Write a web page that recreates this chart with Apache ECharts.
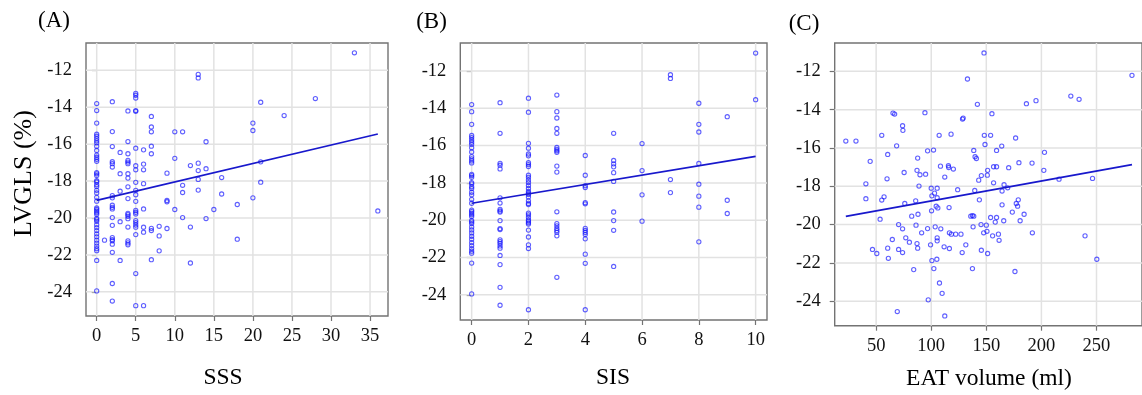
<!DOCTYPE html>
<html><head><meta charset="utf-8">
<script src="https://cdn.jsdelivr.net/npm/echarts@6/dist/echarts.min.js"></script>
<style>html,body{margin:0;padding:0;background:#fff}#c{width:1142px;height:395px}</style>
</head><body><div id="c"></div>
<script>
// ---- tick labels ----
const sssTicks = [0, 5, 10, 15, 20, 25, 30, 35];
const sisTicks = [0, 2, 4, 6, 8, 10];
const eatTicks = [50, 100, 150, 200, 250];
const lvglsTicks = [-24, -22, -20, -18, -16, -14, -12];

// ---- titles ----
const panelLabels = ['(A)', '(B)', '(C)'];
const xTitles = ['SSS', 'SIS', 'EAT volume (ml)'];
const yTitle = 'LVGLS (%)';

// ---- Panel A: LVGLS by SSS (x value, y values) ----
const sssValues = [0, 1, 2, 3, 4, 5, 6, 7, 8, 9, 10, 11, 12, 13, 14, 15, 16, 18, 20, 21, 24, 28, 33, 36];
const lvglsBySss = [
  [-13.8,-14.18,-14.86,-15.46,-15.57,-15.7,-15.82,-15.93,-16.11,-16.34,-16.59,-16.71,-16.82,-16.93,-17.54,-17.61,-17.7,-17.98,-18.05,-18.2,-18.3,-18.5,-18.64,-18.88,-19.09,-19.46,-19.54,-19.63,-19.71,-19.8,-20.02,-20.09,-20.18,-20.36,-20.52,-20.68,-20.86,-21.02,-21.2,-21.36,-21.52,-21.66,-21.77,-22.3,-23.95],
  [-21.2],
  [-13.7,-15.32,-16.13,-16.95,-17.06,-17.24,-18.79,-18.91,-19.31,-19.42,-19.51,-19.98,-20.4,-21.06,-21.17,-21.24,-21.42,-21.86,-23.55,-24.5],
  [-16.45,-17.6,-18.55,-20.2,-22.3],
  [-14.2,-15.86,-16.52,-16.88,-16.97,-17.06,-17.6,-17.84,-18.31,-18.95,-19.75,-19.82,-19.91,-20.04,-20.49,-21.24,-21.35,-21.45],
  [-13.25,-13.35,-13.5,-14.18,-14.22,-16.22,-17.17,-17.39,-18.07,-18.5,-18.74,-19.1,-19.59,-19.69,-19.78,-20.14,-20.25,-20.38,-20.5,-20.9,-23.01,-24.75],
  [-16.31,-17.08,-17.39,-18.14,-19.51,-20.5,-20.77,-24.75],
  [-14.5,-15.07,-15.33,-16.11,-16.52,-20.56,-20.68,-22.26],
  [-20.45,-20.97,-21.78],
  [-17.57,-19.05,-19.12,-20.57],
  [-15.33,-16.77,-19.54],
  [-15.33,-18.23,-18.62,-19.98],
  [-17.16,-20.49,-22.44],
  [-12.22,-12.41,-17.03,-17.43,-17.91,-18.49],
  [-15.87,-17.33,-20.03],
  [-19.54],
  [-17.81,-18.7],
  [-19.27,-21.15],
  [-14.86,-15.26,-18.91],
  [-13.73,-16.96,-18.06],
  [-14.45],
  [-13.53],
  [-11.05],
  [-19.62]
];
const fitA = [[0, -19.05], [36, -15.45]];

// ---- Panel B: LVGLS by SIS ----
const sisValues = [0, 1, 2, 3, 4, 5, 6, 7, 8, 9, 10];
const lvglsBySis = [
  [-13.8,-14.18,-14.86,-15.46,-15.57,-15.7,-15.82,-15.93,-16.11,-16.34,-16.59,-16.71,-16.82,-16.93,-17.54,-17.61,-17.7,-17.98,-18.05,-18.2,-18.3,-18.5,-18.64,-18.88,-19.09,-19.46,-19.54,-19.63,-19.71,-19.8,-20.02,-20.09,-20.18,-20.36,-20.52,-20.68,-20.86,-21.02,-21.2,-21.36,-21.52,-21.66,-21.77,-22.3,-23.95],
  [-13.7,-15.34,-16.95,-17.05,-17.25,-18.8,-19.08,-19.42,-19.5,-19.56,-20.02,-20.45,-20.5,-21.05,-21.15,-21.25,-21.38,-21.5,-21.89,-22.38,-23.6,-24.56],
  [-13.46,-14.21,-15.88,-16.14,-16.45,-16.55,-16.92,-17.02,-17.12,-17.59,-17.7,-17.85,-17.98,-18.14,-18.3,-18.46,-18.55,-18.62,-18.75,-18.96,-19.1,-19.16,-19.62,-19.71,-19.84,-19.98,-20.05,-20.14,-20.21,-20.53,-20.9,-21.32,-21.52,-24.8],
  [-13.29,-14.18,-14.52,-15.08,-15.34,-16.1,-16.2,-16.28,-16.36,-17.1,-17.42,-19.55,-20.18,-20.3,-20.44,-20.55,-20.65,-20.84,-23.06],
  [-16.53,-17.59,-18.15,-18.25,-19.06,-19.12,-20.44,-20.55,-20.66,-20.77,-21.0,-21.82,-22.31,-24.8],
  [-15.34,-16.8,-16.98,-17.14,-17.45,-17.92,-19.56,-20.02,-20.54,-22.48],
  [-15.89,-17.34,-18.64,-20.05],
  [-12.2,-12.4,-17.82,-18.52],
  [-13.73,-14.86,-15.27,-16.96,-18.07,-18.71,-19.3,-21.16],
  [-14.45,-18.93,-19.64],
  [-11.04,-13.54]
];
const fitB = [[0, -19.09], [10, -16.58]];

// ---- Panel C: LVGLS vs EAT volume ----
const eatVolume = [22.5,31.7,40.7,40.7,44.6,46.7,50.6,53.6,55.1,55.1,57.2,59.9,60.5,60.5,61.1,64.7,65.3,66.8,68.6,69.2,70.4,70.4,74.0,74.3,74.0,74.0,75.4,76.0,76.9,80.2,82.3,84.1,85.9,86.2,87.1,87.7,88.0,87.1,87.7,88.9,89.8,91.3,94.3,94.9,96.7,96.7,97.3,99.4,100.0,100.6,100.3,100.6,102.1,102.4,103.0,103.6,104.5,105.1,105.4,105.4,105.4,105.4,106.0,107.2,107.5,108.4,108.7,109.9,111.7,112.3,112.3,115.6,115.9,116.2,116.5,116.5,118.0,118.3,120.1,122.2,124.0,127.0,128.4,129.0,128.1,131.4,132.9,137.4,135.9,137.4,138.6,138.0,138.6,139.8,141.0,141.9,139.5,143.1,143.7,145.2,145.5,145.5,
  147.9,155.1,148.2,153.9,176.6,148.8,164.0,159.3,186.4,195.1,226.7,234.2,282.2,202.8,156.6,159.3,170.3,179.6,191.5,202.2,216.0,246.4,151.2,150.9,156.6,166.1,169.4,164.3,179.0,177.2,178.4,164.3,173.6,184.3,153.9,159.3,158.1,165.8,180.7,150.0,191.8,147.6,150.6,155.7,161.0,161.6,239.6,151.2,250.3,176.0];
const lvglsByEat = [-15.64,-15.64,-17.87,-18.65,-16.7,-21.3,-21.51,-19.72,-15.34,-18.72,-18.55,-17.61,-16.34,-21.23,-21.76,-20.78,-14.18,-14.23,-15.89,-24.54,-20.0,-21.3,-14.84,-15.08,-20.22,-21.46,-17.28,-18.9,-20.69,-20.92,-19.56,-22.35,-18.76,-20.03,-17.17,-16.53,-19.46,-20.99,-21.23,-17.99,-17.4,-20.43,-14.16,-17.37,-16.15,-20.21,-23.93,-21.06,-18.1,-21.88,-19.28,-18.5,-16.11,-22.3,-18.36,-20.12,-19.04,-21.81,-18.1,-18.6,-20.85,-20.69,-19.13,-15.34,-23.05,-16.95,-20.22,-23.59,-21.16,-17.52,-24.77,-16.93,-17.02,-19.11,-20.43,-21.25,-15.28,-20.5,-17.1,-20.5,-18.18,-20.5,-14.49,-14.44,-21.46,-21.06,-12.4,-22.3,-19.56,-19.53,-19.56,-20.12,-16.13,-16.46,-16.55,-13.72,-18.22,-17.68,-18.71,-20.0,-21.34,-17.44,
  -11.04,-14.21,-15.34,-15.34,-15.48,-15.82,-15.9,-16.13,-13.69,-13.53,-13.29,-13.46,-12.21,-16.23,-16.98,-16.98,-17.03,-16.77,-16.79,-17.17,-17.63,-17.59,-17.17,-17.42,-17.82,-17.92,-18.08,-18.25,-18.71,-18.9,-19.04,-18.97,-19.35,-19.46,-19.63,-19.63,-19.87,-19.8,-19.8,-20.03,-20.43,-20.43,-20.35,-20.59,-20.5,-20.82,-20.59,-21.51,-21.81,-22.45];
const fitC = [[22.5, -19.57], [282.2, -16.87]];

// ---- build point tables ----
function fromGroups(xs, groups) {
  const out = [];
  xs.forEach((x, i) => groups[i].forEach(y => out.push([x, y])));
  return out;
}
const ptsA = fromGroups(sssValues, lvglsBySss);
const ptsB = fromGroups(sisValues, lvglsBySis);
const ptsC = eatVolume.map((x, i) => [x, lvglsByEat[i]]);

const FONT = '"Liberation Serif", "Times New Roman", serif';
const GRID_LINE = '#e2e2e2';
const FRAME = '#737373';
const PT = 'rgba(20,20,255,0.85)';
const LINE = '#1818cc';

const ranges = [
  { x: [-1.37, 37.3], y: [-25.31, -10.52] },
  { x: [-0.4, 10.4], y: [-25.35, -10.5] },
  { x: [12.4, 291.3], y: [-25.28, -10.52] }
];

const grids = [
  { left: 86, top: 43, width: 302, height: 273 },
  { left: 460.3, top: 43, width: 306.7, height: 277 },
  { left: 834.7, top: 43, width: 311.3, height: 282.7 }
].map(g => Object.assign(g, { show: true, borderColor: FRAME, borderWidth: 1.4, backgroundColor: 'transparent', containLabel: false }));

function xAx(i, ticks) {
  return {
    type: 'value', gridIndex: i, min: ranges[i].x[0], max: ranges[i].x[1],
    axisLine: { show: false },
    axisTick: { show: true, customValues: ticks, length: 5, lineStyle: { color: FRAME, width: 1.2 } },
    axisLabel: { customValues: ticks, fontSize: 18.5, fontFamily: FONT, color: '#111', margin: 11 },
    splitLine: { show: false }
  };
}
function yAx(i) {
  return {
    type: 'value', gridIndex: i, min: ranges[i].y[0], max: ranges[i].y[1],
    axisLine: { show: false },
    axisTick: { show: true, customValues: lvglsTicks, length: 5, lineStyle: { color: FRAME, width: 1.2 } },
    axisLabel: { customValues: lvglsTicks, fontSize: 18.5, fontFamily: FONT, color: '#111', margin: 14 },
    splitLine: { show: false }
  };
}

// background grid lines at the tick values, drawn through the axes' own scales
function gridLines(i, xticks) {
  const r = ranges[i];
  const d = [];
  xticks.forEach(v => { d.push([v, r.y[0]], [v, r.y[1]], ['-', '-']); });
  lvglsTicks.forEach(v => { d.push([r.x[0], v], [r.x[1], v], ['-', '-']); });
  return {
    type: 'line', xAxisIndex: i, yAxisIndex: i, data: d, z: 1, silent: true,
    showSymbol: false, symbol: 'none', connectNulls: false,
    lineStyle: { color: GRID_LINE, width: 1.5 }
  };
}

function scatter(i, data) {
  return {
    type: 'scatter', xAxisIndex: i, yAxisIndex: i, data: data,
    symbol: 'circle', symbolSize: 4.2,
    itemStyle: { color: 'transparent', borderColor: PT, borderWidth: 1.1 },
    z: 3
  };
}
function fit(i, data) {
  return {
    type: 'line', xAxisIndex: i, yAxisIndex: i, data: data,
    showSymbol: false, symbol: 'none',
    lineStyle: { color: LINE, width: 1.7 }, z: 4
  };
}

function txt(text, x, y, size, rot) {
  return {
    type: 'text', x: x, y: y, rotation: rot || 0,
    style: { text: text, font: size + 'px ' + FONT, fill: '#000', textAlign: 'center', textVerticalAlign: 'middle' }
  };
}

const chart = echarts.init(document.getElementById('c'), null, { renderer: 'canvas' });
chart.setOption({
  animation: false,
  backgroundColor: '#fff',
  grid: grids,
  xAxis: [xAx(0, sssTicks), xAx(1, sisTicks), xAx(2, eatTicks)],
  yAxis: [yAx(0), yAx(1), yAx(2)],
  series: [
    gridLines(0, sssTicks), gridLines(1, sisTicks), gridLines(2, eatTicks),
    scatter(0, ptsA), fit(0, fitA), scatter(1, ptsB), fit(1, fitB), scatter(2, ptsC), fit(2, fitC)
  ],
  graphic: [
    txt(panelLabels[0], 54, 21, 23),
    txt(panelLabels[1], 431.5, 21.5, 23),
    txt(panelLabels[2], 804, 23.5, 23),
    txt(xTitles[0], 223, 378, 23.5),
    txt(xTitles[1], 613, 378, 23.5),
    txt(xTitles[2], 989, 379, 23.5),
    txt(yTitle, 24, 173.5, 26, Math.PI / 2)
  ]
});
</script></body></html>
